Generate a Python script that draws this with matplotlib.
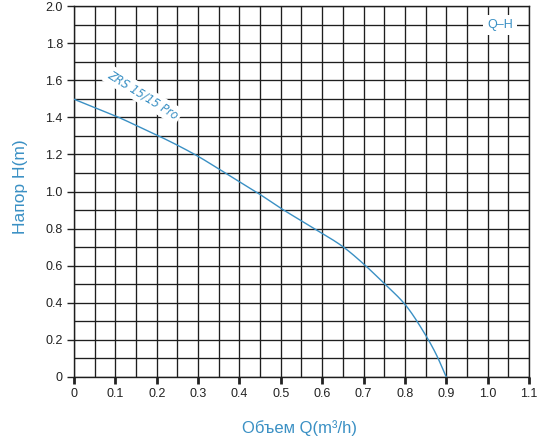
import matplotlib
matplotlib.use("Agg")
import matplotlib.pyplot as plt
import numpy as np
from matplotlib.ticker import MultipleLocator

plt.rcParams['font.family'] = ['Liberation Sans', 'DejaVu Sans']

q = [0.0, 0.05, 0.1, 0.15, 0.2, 0.25, 0.3, 0.35, 0.4, 0.45, 0.5, 0.55, 0.6, 0.65, 0.7, 0.75, 0.8, 0.85, 0.875, 0.9]
h = [1.498, 1.453, 1.408, 1.357, 1.305, 1.25, 1.19, 1.122, 1.052, 0.984, 0.91, 0.842, 0.775, 0.703, 0.61, 0.504, 0.392, 0.226, 0.125, 0.0]
x_ticks = [0, 0.1, 0.2, 0.3, 0.4, 0.5, 0.6, 0.7, 0.8, 0.9, 1.0, 1.1]
x_labels = ['0', '0.1', '0.2', '0.3', '0.4', '0.5', '0.6', '0.7', '0.8', '0.9', '1.0', '1.1']
y_ticks = [0, 0.2, 0.4, 0.6, 0.8, 1.0, 1.2, 1.4, 1.6, 1.8, 2.0]
y_labels = ['0', '0.2', '0.4', '0.6', '0.8', '1.0', '1.2', '1.4', '1.6', '1.8', '2.0']

blue = '#3a90c4'

fig = plt.figure(figsize=(5.42, 4.37), dpi=100)
ax = fig.add_axes([0.1365, 0.1373, 0.976 - 0.1365, 0.986 - 0.1373])

ax.set_xlim(0, 1.1)
ax.set_ylim(0, 2.0)
ax.xaxis.set_minor_locator(MultipleLocator(0.05))
ax.yaxis.set_minor_locator(MultipleLocator(0.1))
ax.grid(which='both', color='#1e1e1e', linewidth=0.95)
ax.set_axisbelow(True)
for s in ax.spines.values():
    s.set_color('#1e1e1e')
    s.set_linewidth(1.0)

ax.set_xticks(x_ticks)
ax.set_xticklabels(x_labels)
ax.set_yticks(y_ticks)
ax.set_yticklabels(y_labels)
ax.tick_params(axis='x', which='major', direction='out', length=5, width=2, labelsize=9, colors='#222222', pad=3)
ax.tick_params(axis='y', which='major', direction='out', length=5, width=1.0, labelsize=9, colors='#222222', pad=3)
ax.tick_params(which='minor', length=0)


def pchip(x, y, xn):
    x = np.asarray(x, float); y = np.asarray(y, float)
    hk = np.diff(x); dk = np.diff(y) / hk
    m = np.zeros_like(y)
    for k in range(1, len(x) - 1):
        if dk[k - 1] * dk[k] > 0:
            w1 = 2 * hk[k] + hk[k - 1]; w2 = hk[k] + 2 * hk[k - 1]
            m[k] = (w1 + w2) / (w1 / dk[k - 1] + w2 / dk[k])
    m[0] = dk[0]; m[-1] = dk[-1]
    idx = np.clip(np.searchsorted(x, xn) - 1, 0, len(x) - 2)
    t = (xn - x[idx]) / hk[idx]
    h00 = 2*t**3 - 3*t**2 + 1; h10 = t**3 - 2*t**2 + t
    h01 = -2*t**3 + 3*t**2; h11 = t**3 - t**2
    return h00*y[idx] + h10*hk[idx]*m[idx] + h01*y[idx+1] + h11*hk[idx]*m[idx+1]


qq = np.linspace(q[0], q[-1], 400)
ax.plot(qq, pchip(q, h, qq), color=blue, linewidth=1.0, zorder=3)

ax.text(0.167, 1.52, 'ZRS 15/15 Pro', rotation=-32, color=blue, fontsize=9,
        family='DejaVu Sans', stretch='condensed',
        ha='center', va='center', style='italic', zorder=4,
        bbox=dict(facecolor='white', edgecolor='none', pad=2.0))
ax.text(1.03, 1.9, 'Q–H', color=blue, fontsize=9, ha='center', va='center', zorder=4,
        bbox=dict(facecolor='white', edgecolor='none', pad=3))

fig.text(0.037, 0.572, 'Напор H(m)', rotation=90, color=blue, fontsize=12.5,
         ha='center', va='center')
fig.text(0.553, (437 - 428) / 437, 'Объем Q(m³/h)', color=blue, fontsize=12,
         ha='center', va='center')

fig.savefig('out.png', dpi=100)
